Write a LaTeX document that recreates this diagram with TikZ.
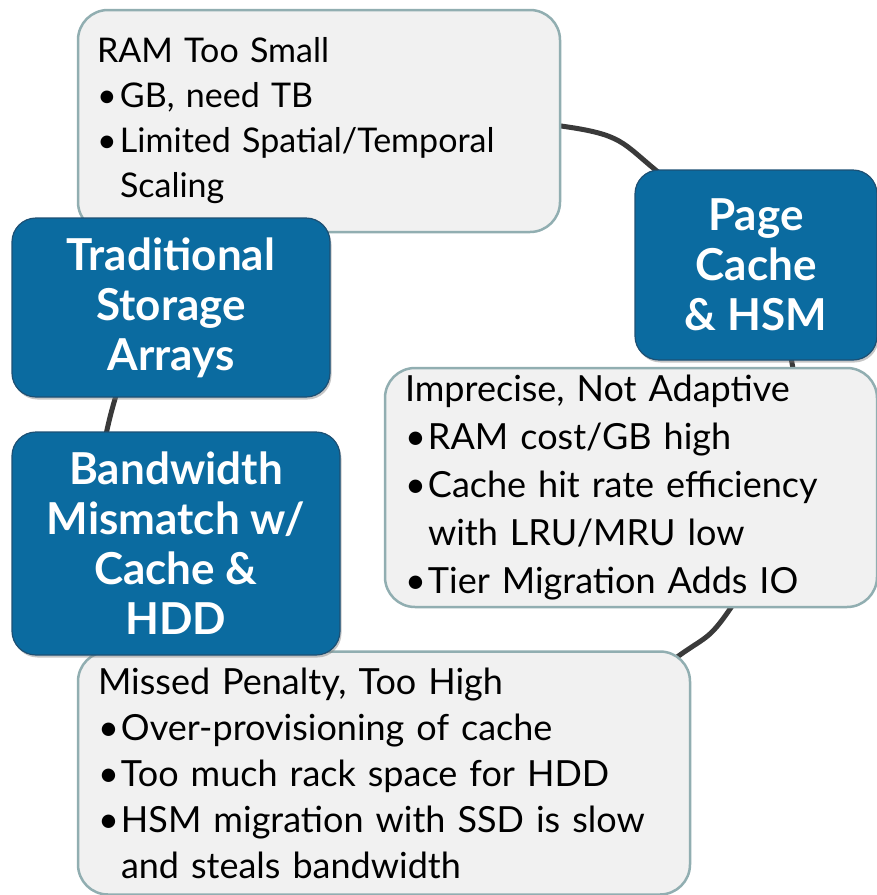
\documentclass[tikz,border=0pt]{standalone}
\usepackage{fontspec}
\setmainfont{Lato}
\usetikzlibrary{shadows}
\definecolor{ringgray}{HTML}{3A3A3A}
\definecolor{cellblue}{HTML}{0B6BA0}
\definecolor{celledge}{HTML}{1D5074}
\definecolor{notefill}{HTML}{F1F1F1}
\definecolor{noteedge}{HTML}{91AEB1}
\newcommand{\bul}[1]{\makebox[23pt][l]{\textbullet}#1}
\newcommand{\ind}[1]{\hspace*{23pt}#1}
\tikzset{
  cell/.style={rectangle, rounded corners=24pt, fill=cellblue, draw=celledge, line width=1.2pt,
               text=white, align=center, inner sep=0pt,
               font=\fontsize{44}{50}\selectfont\bfseries,
               drop shadow={shadow xshift=1.5pt, shadow yshift=-2.5pt, opacity=0.45}},
  note/.style={rectangle, rounded corners=30pt, fill=notefill, draw=noteedge, line width=2.5pt,
               align=left, inner ysep=0pt, font=\fontsize{34}{45}\selectfont},
  cyc/.style={draw=ringgray, line width=5pt},
}

\begin{document}
\begin{tikzpicture}[x=1pt, y=-1pt]
\useasboundingbox (0,0) rectangle (877,895);
% background ring
\draw[cyc] plot[smooth cycle, tension=0.7] coordinates
  {(107,430) (208,211) (340,128) (561,126) (658,172) (750,280) (792,363)
   (790,490) (730,609) (673,660) (560,735) (400,755) (240,700) (130,570)};
% notes
\node[note, minimum width=482pt, minimum height=222pt, inner xsep=19pt, text width=444pt] (ram) at (319,121)
 {RAM Too Small\\
  \bul{GB, need TB}\\
  \bul{Limited Spatial/Temporal}\\
  \ind{Scaling}};
\node[note, minimum width=492pt, minimum height=239pt, inner xsep=20pt, text width=452pt,
      font=\fontsize{36}{48}\selectfont] (imp) at (631,487.5)
 {Imprecise, Not Adaptive\\
  \bul{RAM cost/GB high}\\
  \bul{Cache hit rate efficiency}\\
  \ind{with LRU/MRU low}\\
  \bul{Tier Migration Adds IO}};
\node[note, minimum width=612pt, minimum height=243pt, inner xsep=20pt, text width=572pt,
      font=\fontsize{36}{46}\selectfont] (miss) at (384,773)
 {Missed Penalty, Too High\\
  \bul{Over-provisioning of cache}\\
  \bul{Too much rack space for HDD}\\
  \bul{HSM migration with SSD is slow}\\
  \ind{and steals bandwidth}};
% cycle steps
\node[cell, minimum width=318pt, minimum height=179pt] (trad) at (171,307.5)
 {Traditional\\Storage\\Arrays};
\node[cell, minimum width=242pt, minimum height=190pt] (page) at (756,265)
 {Page\\Cache\\\& HSM};
\node[cell, minimum width=328pt, minimum height=223pt] (band) at (176,543.5)
 {Bandwidth\\Mismatch w/\\Cache \&\\HDD};
\end{tikzpicture}
\end{document}
